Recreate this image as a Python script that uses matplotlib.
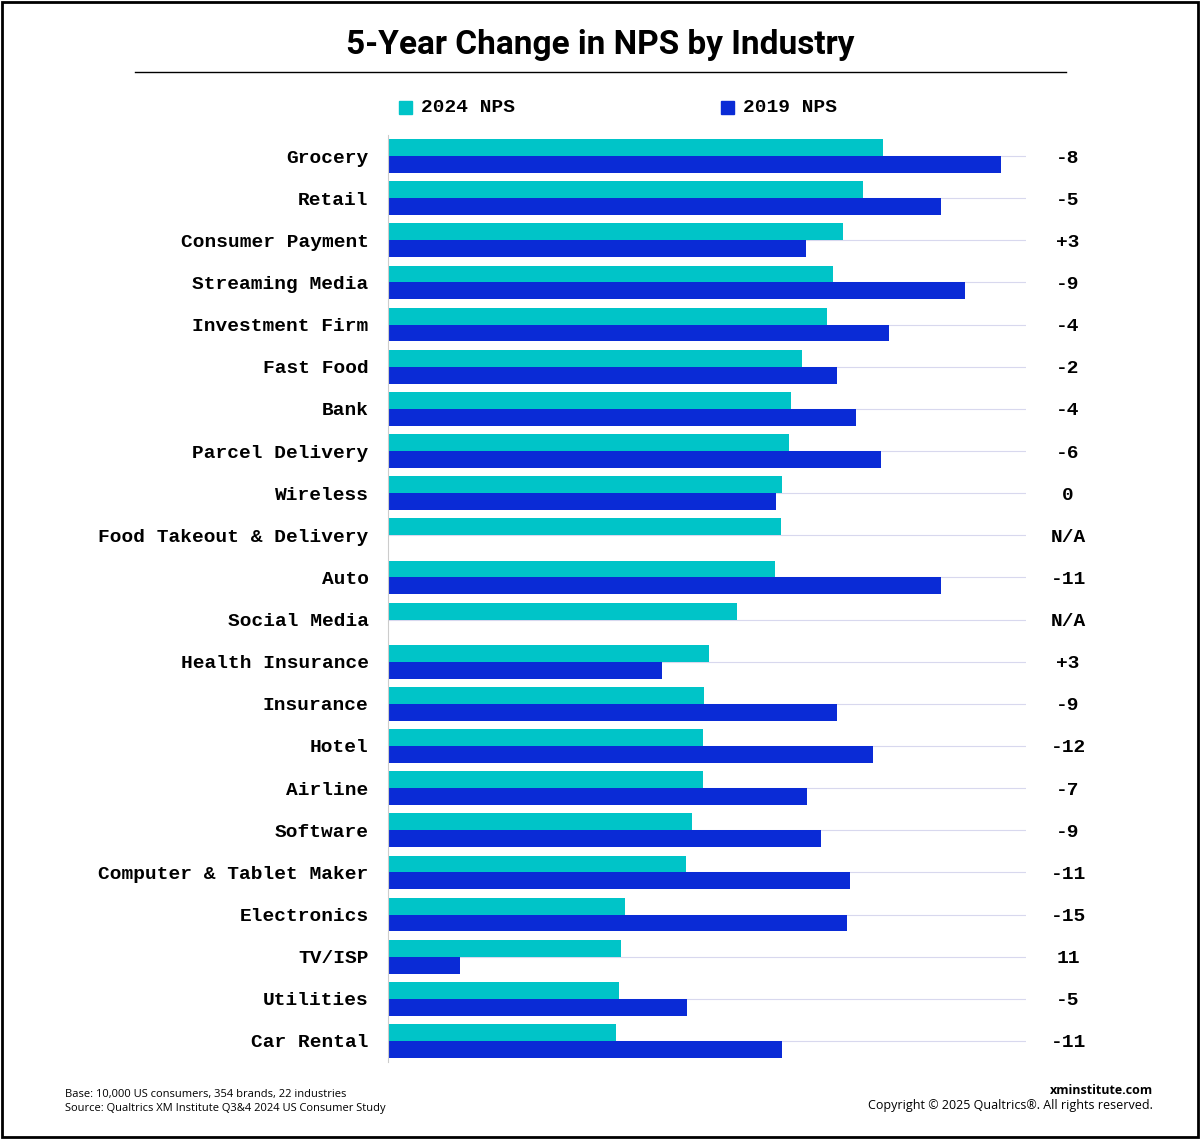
import matplotlib.pyplot as plt
import numpy as np
from matplotlib.patches import Rectangle

industries = ["Grocery", "Retail", "Consumer Payment", "Streaming Media", "Investment Firm",
              "Fast Food", "Bank", "Parcel Delivery", "Wireless", "Food Takeout & Delivery",
              "Auto", "Social Media", "Health Insurance", "Insurance", "Hotel", "Airline",
              "Software", "Computer & Tablet Maker", "Electronics", "TV/ISP", "Utilities",
              "Car Rental"]
# bar lengths (relative units)
nps_2024 = [495, 475, 455, 445, 439, 414, 403, 401, 394, 393, 387, 349, 321, 316, 315, 315,
            304, 298, 237, 233, 231, 228]
nps_2019 = [613, 553, 418, 577, 501, 449, 468, 493, 388, None, 553, None, 274, 449, 485, 419,
            433, 462, 459, 72, 299, 394]
changes = ["-8", "-5", "+3", "-9", "-4", "-2", "-4", "-6", "0", "N/A", "-11", "N/A", "+3",
           "-9", "-12", "-7", "-9", "-11", "-15", "11", "-5", "-11"]

c24 = "#00c4c8"
c19 = "#0a2bd6"
mono = "Liberation Mono"

fig = plt.figure(figsize=(12, 11.39), dpi=100)
ax = fig.add_axes([388 / 1200, 1 - 1062 / 1139, 638 / 1200, (1062 - 135) / 1139])

n = len(industries)
y = np.arange(n)
h = 0.4
for i in range(n):
    ax.barh(i - h / 2, nps_2024[i], height=h, color=c24)
    if nps_2019[i] is not None:
        ax.barh(i + h / 2, nps_2019[i], height=h, color=c19)
    ax.axhline(i, color="#d8d8ee", lw=0.8, zorder=0)

ax.set_xlim(0, 638)
ax.set_ylim(n - 0.5, -0.5)
ax.set_yticks(y)
ax.set_yticklabels(industries, family=mono, fontsize=14, fontweight="bold")
ax.tick_params(axis="y", length=0, pad=14)
ax.set_xticks([])
for s in ["top", "right", "bottom"]:
    ax.spines[s].set_visible(False)
ax.spines["left"].set_color("#cccccc")

for i, c in enumerate(changes):
    yy = ax.transData.transform((0, i))[1] / fig.bbox.height
    fig.text(1068 / 1200, yy, c, family=mono, fontsize=14, fontweight="bold",
             ha="center", va="center_baseline")

fig.text(0.5, 1 - 45 / 1139, "5-Year Change in NPS by Industry", ha="center", va="center",
         fontsize=24, fontweight="bold", family="Roboto")
fig.add_artist(plt.Line2D([135 / 1200, 1066 / 1200], [1 - 72 / 1139] * 2, color="black", lw=1))

for x0, col, lab in [(399, c24, "2024 NPS"), (721, c19, "2019 NPS")]:
    fig.add_artist(Rectangle((x0 / 1200, 1 - 114 / 1139), 13 / 1200, 13 / 1139, color=col))
    fig.text((x0 + 22) / 1200, 1 - 107 / 1139, lab, family=mono, fontsize=14,
             fontweight="bold", va="center")

fig.text(65 / 1200, 1 - 1094 / 1139, "Base: 10,000 US consumers, 354 brands, 22 industries",
         fontsize=8, va="center", family="Open Sans")
fig.text(65 / 1200, 1 - 1109 / 1139, "Source: Qualtrics XM Institute Q3&4 2024 US Consumer Study",
         fontsize=8, va="center", family="Open Sans")
fig.text(1153 / 1200, 1 - 1090 / 1139, "xminstitute.com", fontsize=9, fontweight="bold",
         ha="right", va="center", family="Open Sans")
fig.text(1153 / 1200, 1 - 1106 / 1139, "Copyright © 2025 Qualtrics®. All rights reserved.",
         fontsize=9, ha="right", va="center", family="Open Sans")

fig.add_artist(Rectangle((2 / 1200, 2 / 1139), 1196 / 1200, 1135 / 1139, fill=False,
                         ec="black", lw=2))

fig.savefig("out.png", dpi=100)
